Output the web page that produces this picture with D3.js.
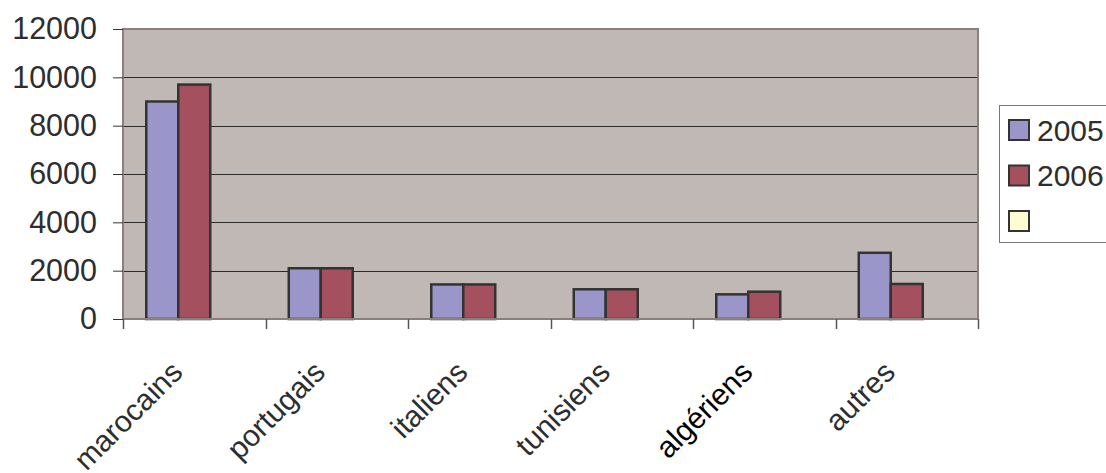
<!DOCTYPE html>
<html>
<head>
<meta charset="utf-8">
<script src="https://cdn.jsdelivr.net/npm/d3@7/dist/d3.min.js"></script>
<style>
  html, body { margin: 0; padding: 0; background: #fff; }
  svg { display: block; }
  text { font-family: "Liberation Sans", Arial, sans-serif; }
</style>
</head>
<body>
<svg id="chart" width="1106" height="473"></svg>
<script>
// Nationalities and counts per year
const categories = ["marocains", "portugais", "italiens", "tunisiens", "algériens", "autres"];
const seriesNames = ["2005", "2006", ""];
const values2005 = [9000, 2100, 1430, 1230, 1020, 2740];
const values2006 = [9700, 2100, 1430, 1230, 1130, 1450];
const values3 = [null, null, null, null, null, null];
const yTicks = [0, 2000, 4000, 6000, 8000, 10000, 12000];
const seriesColors = ["#9b96c9", "#a5505f", "#fffbd2"];

const seriesValues = [values2005, values2006, values3];

const svg = d3.select("#chart");
const W = 1106, H = 473;
svg.append("rect").attr("width", W).attr("height", H).attr("fill", "#fff");

const plot = { left: 123, right: 978, top: 29, bottom: 319 };

const x = d3.scaleBand().domain(categories).range([plot.left, plot.right]).padding(0);
const xs = d3.scaleBand().domain(d3.range(seriesNames.length))
  .range([0, x.bandwidth()]).paddingInner(0).paddingOuter(0.727);
const y = d3.scaleLinear().domain([0, 12000]).range([plot.bottom, plot.top]);

// plot background
svg.append("rect")
  .attr("x", plot.left).attr("y", plot.top)
  .attr("width", plot.right - plot.left).attr("height", plot.bottom - plot.top)
  .attr("fill", "#c0b8b5");

// gridlines
svg.append("g").selectAll("line")
  .data(yTicks.filter(t => t > 0 && t < 12000))
  .join("line")
  .attr("x1", plot.left).attr("x2", plot.right)
  .attr("y1", d => Math.round(y(d)) + 0.5).attr("y2", d => Math.round(y(d)) + 0.5)
  .attr("stroke", "#2a2a2a").attr("stroke-width", 1);

// plot border (top / right / left)
svg.append("path")
  .attr("d", `M${plot.left},${plot.bottom}V${plot.top}H${plot.right}V${plot.bottom}`)
  .attr("fill", "none").attr("stroke", "#8a7f7d").attr("stroke-width", 2);

// bars
const groups = svg.append("g").selectAll("g")
  .data(categories)
  .join("g")
  .attr("transform", d => `translate(${x(d)},0)`);

groups.selectAll("rect")
  .data((d, i) => seriesValues.map((vals, s) => ({ s, v: vals[i] })).filter(e => e.v != null))
  .join("rect")
  .attr("x", e => xs(e.s))
  .attr("width", xs.bandwidth())
  .attr("y", e => y(e.v))
  .attr("height", e => y(0) - y(e.v))
  .attr("fill", e => seriesColors[e.s])
  .attr("stroke", "#333")
  .attr("stroke-width", 2.5);

// y axis
const yAxis = d3.axisLeft(y).tickValues(yTicks).tickSize(10).tickPadding(16).tickFormat(d3.format("d"));
const gy = svg.append("g").attr("transform", `translate(${plot.left},0)`).call(yAxis);
gy.select(".domain").remove();
gy.selectAll(".tick line").attr("stroke", "#333");
gy.selectAll(".tick text")
  .attr("font-size", 30.5).attr("fill", "#2e2e2e")
  .attr("font-family", "'Liberation Sans', Arial, sans-serif");

// x axis line + ticks at category boundaries
svg.append("line")
  .attr("x1", plot.left).attr("x2", plot.right)
  .attr("y1", plot.bottom).attr("y2", plot.bottom)
  .attr("stroke", "#8a7f7d").attr("stroke-width", 2);
const boundaries = categories.map(c => x(c)).concat([x(categories[categories.length - 1]) + x.bandwidth()]);
svg.append("g").selectAll("line")
  .data(boundaries)
  .join("line")
  .attr("x1", d => Math.round(d) + 0.5).attr("x2", d => Math.round(d) + 0.5)
  .attr("y1", plot.bottom).attr("y2", plot.bottom + 10)
  .attr("stroke", "#555").attr("stroke-width", 1.5);

// rotated category labels
svg.append("g").selectAll("text")
  .data(categories)
  .join("text")
  .attr("transform", d => `translate(${x(d) + x.bandwidth() / 2 - 10},${plot.bottom + 55}) rotate(-45)`)
  .attr("text-anchor", "end")
  .attr("font-size", 30)
  .attr("fill", d => d === "algériens" ? "#000" : "#2e2e2e")
  .text(d => d);

// legend
const lg = svg.append("g").attr("transform", "translate(999,105)");
lg.append("rect").attr("x", 0.5).attr("y", 0.5).attr("width", 140).attr("height", 137)
  .attr("fill", "#fff").attr("stroke", "#777").attr("stroke-width", 1);
const items = lg.selectAll("g.item")
  .data(seriesNames)
  .join("g").attr("class", "item")
  .attr("transform", (d, i) => `translate(10,${15 + i * 45.5})`);
items.append("rect")
  .attr("width", 20).attr("height", 20)
  .attr("fill", (d, i) => seriesColors[i])
  .attr("stroke", "#333").attr("stroke-width", 2);
items.append("text")
  .attr("x", 28).attr("y", 10).attr("dy", "0.36em")
  .attr("font-size", 30).attr("fill", "#2e2e2e")
  .text(d => d);
</script>
</body>
</html>
